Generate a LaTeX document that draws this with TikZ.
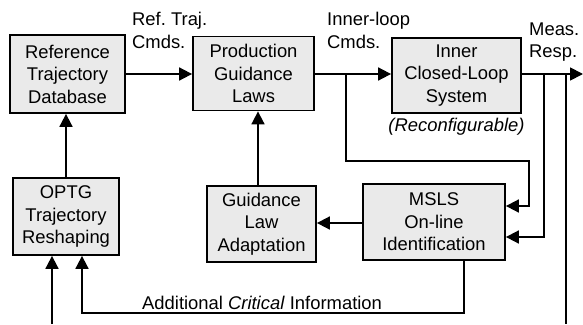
\documentclass[tikz,border=0pt]{standalone}
\usepackage{fontspec}
\setmainfont{Liberation Sans}
\usetikzlibrary{arrows.meta,calc}
\definecolor{boxfill}{RGB}{234,234,234}
\frenchspacing
\begin{document}
\begin{tikzpicture}[x=1pt,y=-1pt,
  font=\fontsize{18.4}{22.5}\selectfont,
  blk/.style={draw, line width=1.8pt, fill=boxfill, align=center, inner sep=0pt},
  wire/.style={line width=1.8pt},
  arr/.style={line width=1.8pt, -{Triangle[length=13pt,width=13pt]}},
  lbl/.style={align=left, inner sep=0pt, anchor=north west}]
\useasboundingbox (0,0) rectangle (583,324);

% blocks
\node[blk, minimum width=115pt, minimum height=78pt] (rtd) at (67.5,74) {Reference\\Trajectory\\Database};
\node[blk, minimum width=121pt, minimum height=74pt] (pgl) at (253.5,73.5) {Production\\Guidance\\Laws};
\node[blk, minimum width=129pt, minimum height=75pt] (icls) at (456.5,75.5) {Inner\\Closed-Loop\\System};
\node[blk, minimum width=106pt, minimum height=77pt] (optg) at (66,216.5) {OPTG\\Trajectory\\Reshaping};
\node[blk, minimum width=109pt, minimum height=76pt] (gla) at (261.5,224) {Guidance\\Law\\Adaptation};
\node[blk, minimum width=142pt, minimum height=76pt] (msls) at (434,222) {MSLS\\On-line\\Identification};

% labels
\node[lbl] (l1) at (132,12) {Ref. Traj.\\Cmds.};
\node[lbl] (l2) at (327,12) {Inner-loop\\Cmds.};
\node[lbl] (l3) at (529,22.5) {Meas.\\Resp.};
\node[inner sep=0pt, anchor=base] (l4) at (456.5,131) {\textit{(Reconfigurable)}};

% helper coordinates
\coordinate (j1) at (346,74);
\coordinate (j2) at (544,74);
\coordinate (j3) at (566,74);
\coordinate (out) at (583,74);
\coordinate (bot) at (566,324);
\coordinate (inp) at (52,324);
\coordinate (k1) at (529,161);
\coordinate (c1) at (82,313);
\coordinate (ya) at (0,223);
\coordinate (g1) at ($(gla.north)+(-3.5,0)$);
\coordinate (m1) at ($(msls.south)+(30,0)$);
\coordinate (e1) at ($(msls.east)+(0,-16)$);
\coordinate (e2) at ($(msls.east)+(0,15)$);

% connectors
\draw[arr] (rtd.east) -- (rtd.east -| pgl.west);
\draw[arr] (pgl.east |- j1) -- (icls.west |- j1);
\draw[arr] (icls.east |- j1) -- (out);
\draw[arr] (j1) |- (k1) |- (e1);
\draw[arr] (j2) |- (e2);
\draw[wire] (j3) -- (bot);
\draw[arr] (msls.west |- ya) -- (gla.east |- ya);
\draw[arr] (g1) -- (g1 |- pgl.south);
\draw[arr] (optg.north) -- (optg.north |- rtd.south);
\draw[arr] (m1) |- (c1) -- (c1 |- optg.south);
\draw[arr] (inp) -- (inp |- optg.south);
\node[inner sep=0pt, anchor=base west] (l5) at (142,309) {Additional \textit{Critical} Information};
\end{tikzpicture}
\end{document}
